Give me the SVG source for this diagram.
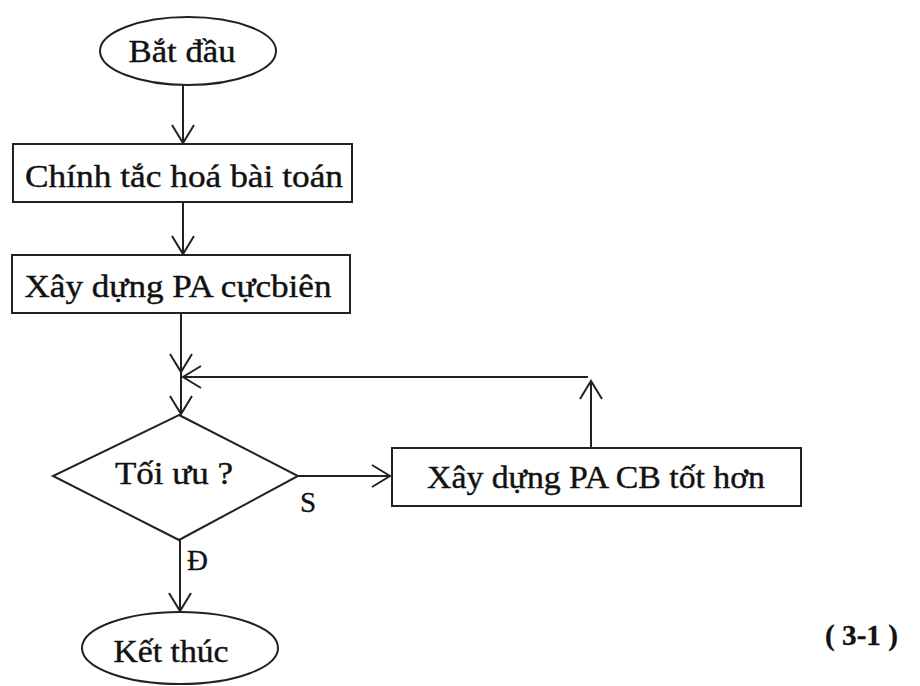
<svg xmlns="http://www.w3.org/2000/svg" width="920" height="686" viewBox="0 0 920 686">
<style>
.shape{fill:#fff;stroke:#222;stroke-width:2}
.con{fill:none;stroke:#222;stroke-width:2;marker-end:url(#arr)}
.t{font-family:"Liberation Serif","DejaVu Serif",serif;font-size:31px;fill:#111;stroke:#111;stroke-width:0.4;text-anchor:middle}
.lbl{font-family:"Liberation Serif","DejaVu Serif",serif;font-size:29px;fill:#111;stroke:#111;stroke-width:0.3}
</style>
<defs>
<marker id="arr" viewBox="-20 -13 22 26" markerWidth="22" markerHeight="26" refX="0" refY="0" orient="auto" markerUnits="userSpaceOnUse">
<path d="M-18,-11 L0,0 L-18,11" fill="none" stroke="#222" stroke-width="2"/>
</marker>
</defs>
<rect width="920" height="686" fill="#fff"/>
<g id="connectors">
<path class="con" d="M183,85 V143"/>
<path class="con" d="M183,202 V254"/>
<path class="con" d="M181,313 V372"/>
<path class="con" d="M181,372 V414"/>
<path class="con" d="M591,448 V381"/>
<path class="con" d="M588,377 H183"/>
<path class="con" d="M298,476 H390"/>
<path class="con" d="M180,540 V611"/>
</g>
<g id="start">
<ellipse class="shape" cx="188" cy="51" rx="88" ry="34"/>
<text class="t" x="182" y="62" textLength="107" lengthAdjust="spacingAndGlyphs">Bắt đầu</text>
</g>
<g id="canonical">
<rect class="shape" x="13" y="144" width="339" height="58"/>
<text class="t" x="184" y="187" textLength="318" lengthAdjust="spacingAndGlyphs">Chính tắc hoá bài toán</text>
</g>
<g id="build">
<rect class="shape" x="12" y="255" width="338" height="58"/>
<text class="t" x="178" y="297" textLength="307" lengthAdjust="spacingAndGlyphs">Xây dựng PA cựcbiên</text>
</g>
<g id="decision">
<polygon class="shape" points="179,415 298,476 179,540 53,476"/>
<text class="t" x="174" y="484" textLength="118" lengthAdjust="spacingAndGlyphs">Tối ưu ?</text>
</g>
<g id="better">
<rect class="shape" x="392" y="448" width="409" height="58"/>
<text class="t" x="596" y="488" textLength="338" lengthAdjust="spacingAndGlyphs">Xây dựng PA CB tốt hơn</text>
</g>
<g id="end">
<ellipse class="shape" cx="180" cy="648" rx="98" ry="36"/>
<text class="t" x="171" y="662" textLength="115" lengthAdjust="spacingAndGlyphs">Kết thúc</text>
</g>
<g id="labels">
<text class="lbl" x="300" y="512">S</text>
<text class="lbl" x="187" y="570">Đ</text>
<text class="lbl" x="825" y="645" font-weight="bold" font-size="29" textLength="73" lengthAdjust="spacingAndGlyphs">( 3-1 )</text>
</g>
</svg>
